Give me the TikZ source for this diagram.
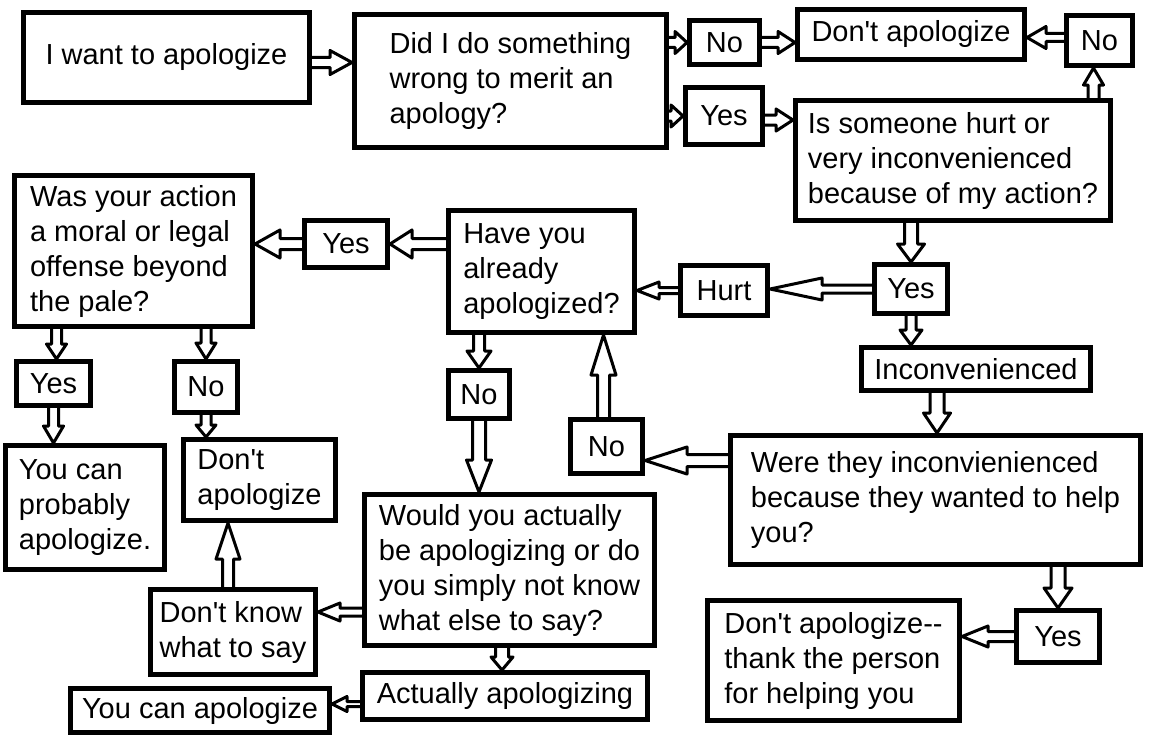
\documentclass[tikz,border=0pt]{standalone}
\usepackage{fontspec}
\newfontfamily\ff{Liberation Sans}
\usetikzlibrary{calc}
\tikzset{
  box/.style={draw, line width=5pt, fill=white, inner sep=1pt, align=left,
    font=\ff\fontsize{29}{35}\selectfont},
  arr/.style={draw, line width=3pt, line join=round},
}
\newcommand\bx[6]{%
  \pgfmathsetmacro\bw{#4-#2-5}%
  \pgfmathsetmacro\bh{#5-#3-5}%
  \node[box, minimum width=\bw pt, minimum height=\bh pt] (#1) at ({(#2+#4)/2},{(#3+#5)/2}) {#6};}
% block arrow: start, end, shaft half width, head half width, head length
\newcommand\barr[5]{%
  \coordinate (ba) at #1; \coordinate (bb) at #2;
  \draw[arr] ($(ba)!#3!90:(bb)$) -- ($(bb)!#5!(ba)!#3!-90:(ba)$)
    -- ($(bb)!#5!(ba)!#4!-90:(ba)$) -- (bb) -- ($(bb)!#5!(ba)!#4!90:(ba)$)
    -- ($(bb)!#5!(ba)!#3!90:(ba)$) -- ($(ba)!#3!-90:(bb)$);}
\begin{document}
\begin{tikzpicture}[x=1pt,y=-1pt]
\useasboundingbox[fill=white] (0,0) rectangle (1158,752);
\bx{b1}{21}{10}{312}{105}{I want to apologize}
\bx{b2}{352}{12}{669}{150}{Did I do something\\wrong to merit an\\apology?}
\bx{no1}{687}{18}{762}{67}{No}
\bx{da1}{795}{7}{1027}{62}{Don't apologize}
\bx{no2}{1064}{13}{1135}{68}{No}
\bx{yes1}{683}{85}{765}{147}{Yes}
\bx{b7}{793}{98}{1113}{223}{Is someone hurt or\\very inconvenienced\\because of my action?}
\bx{b8}{12}{173}{255}{329}{Was your action\\a moral or legal\\offense beyond\\the pale?}
\bx{yes2}{302}{218}{390}{270}{Yes}
\bx{b10}{446}{208}{637}{335}{Have you\\already\\apologized?}
\bx{hurt}{678}{263}{770}{318}{Hurt}
\bx{yes3}{872}{262}{950}{316}{Yes}
\bx{inc}{859}{345}{1093}{393}{Inconvenienced}
\bx{yes4}{14}{359}{93}{408}{Yes}
\bx{no3}{172}{359}{240}{415}{No}
\bx{no4}{446}{368}{512}{421}{No}
\bx{no5}{568}{417}{645}{476}{No}
\bx{b18}{728}{433}{1143}{567}{Were they inconvienienced\\because they wanted to help\\you?}
\bx{b19}{3}{443}{167}{572}{You can\\probably\\apologize.}
\bx{b20}{181}{437}{338}{523}{Don't\\apologize}
\bx{b21}{362}{492}{657}{648}{Would you actually\\be apologizing or do\\you simply not know\\what else to say?}
\bx{b22}{148}{587}{318}{677}{Don't know\\what to say}
\bx{yes5}{1014}{608}{1102}{665}{Yes}
\bx{b24}{705}{598}{962}{723}{Don't apologize--\\thank the person\\for helping you}
\bx{act}{360}{670}{650}{722}{Actually apologizing}
\bx{yca}{68}{686}{332}{735}{You can apologize}
% arrows
\barr{([yshift=-5pt]b1.east)}{(ba -| b2.west)}{5pt}{12pt}{22pt}
\barr{(b2.east |- no1.west)}{(no1.west)}{5pt}{11pt}{12pt}
\barr{(b2.east |- yes1.west)}{(yes1.west)}{5pt}{11pt}{12pt}
\barr{(no1.east)}{(ba -| da1.west)}{5pt}{11pt}{17pt}
\barr{([yshift=-4pt]yes1.east)}{(ba -| b7.west)}{5pt}{11pt}{17pt}
\barr{([yshift=3pt]no2.west)}{(ba -| da1.east)}{4pt}{11pt}{19pt}
\coordinate (c7) at ([xshift=-6pt]no2.south);
\barr{(c7 |- b7.north)}{(c7)}{5.5pt}{10pt}{17pt}
\barr{(b7.south -| yes3.north)}{(yes3.north)}{6.5pt}{13.5pt}{18pt}
\barr{(yes3.west)}{(ba -| hurt.east)}{4pt}{11pt}{52pt}
\barr{(hurt.west)}{(ba -| b10.east)}{3pt}{8.5pt}{22pt}
\barr{(yes3.south)}{(ba |- inc.north)}{5pt}{11pt}{15pt}
\barr{([xshift=-39pt]inc.south)}{(ba |- b18.north)}{7pt}{13.5pt}{20pt}
\coordinate (c13) at ([yshift=-14pt]no5.east);
\barr{(c13 -| b18.west)}{(c13)}{6pt}{13.5pt}{42pt}
\barr{([xshift=-3pt]no5.north)}{(ba |- b10.south)}{6pt}{12.5pt}{40pt}
\barr{(b10.south -| no4.north)}{(no4.north)}{5.5pt}{12pt}{17pt}
\barr{(no4.south)}{(ba |- b21.north)}{6.5pt}{12.5pt}{32pt}
\barr{(b10.west |- yes2.east)}{(yes2.east)}{5.5pt}{14pt}{22pt}
\barr{(yes2.west)}{(ba -| b8.east)}{5.5pt}{14pt}{25pt}
\coordinate (c19) at ([xshift=3pt]yes4.north);
\barr{(c19 |- b8.south)}{(c19)}{5pt}{10pt}{15pt}
\barr{(b8.south -| no3.north)}{(no3.north)}{5pt}{10pt}{16pt}
\barr{(yes4.south)}{(ba |- b19.north)}{5pt}{10pt}{17pt}
\barr{(no3.south)}{(ba |- b20.north)}{5pt}{10pt}{12pt}
\barr{([xshift=-5pt]b22.north)}{(ba |- b20.south)}{5.5pt}{12pt}{36pt}
\coordinate (c24) at ([yshift=20pt]b22.east);
\barr{(c24 -| b21.west)}{(c24)}{4pt}{9pt}{22pt}
\coordinate (c25) at ([xshift=-3pt]act.north);
\barr{(c25 |- b21.south)}{(c25)}{6.5pt}{11pt}{13pt}
\coordinate (c26) at ([yshift=6.5pt]yca.east);
\barr{(c26 -| act.west)}{(c26)}{2.5pt}{7.5pt}{15pt}
\barr{(b18.south -| yes5.north)}{(yes5.north)}{7pt}{14pt}{20pt}
\barr{(yes5.west)}{(ba -| b24.east)}{5pt}{10.5pt}{26pt}
\end{tikzpicture}
\end{document}
